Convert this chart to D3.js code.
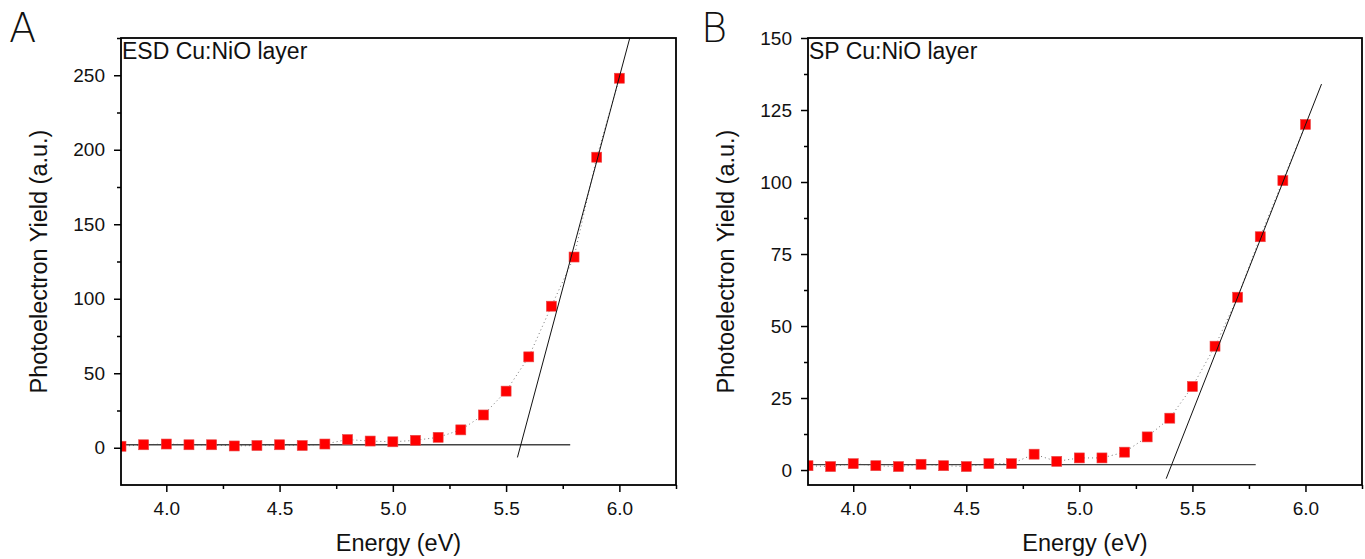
<!DOCTYPE html>
<html>
<head>
<meta charset="utf-8">
<script src="https://cdn.jsdelivr.net/npm/d3@7"></script>
<style>
  html, body { margin: 0; padding: 0; background: #fff; }
  svg { display: block; }
  .tick text { font-family: "Liberation Sans", Arial, sans-serif; font-size: 19px; fill: #111; }
</style>
</head>
<body>
<svg id="chart" width="1365" height="559"></svg>
<script>
// ---- data ----
const energy = [3.8, 3.9, 4.0, 4.1, 4.2, 4.3, 4.4, 4.5, 4.6, 4.7, 4.8, 4.9, 5.0, 5.1, 5.2, 5.3, 5.4, 5.5, 5.6, 5.7, 5.8, 5.9, 6.0];
const yieldESD = [1, 2, 2.5, 2, 2, 1.2, 1.5, 2, 1.5, 2.5, 5.5, 4.5, 4, 5, 7, 12, 22, 38, 61, 95, 128, 195, 248];
const yieldSP = [1.5, 1.2, 2.2, 1.5, 1.2, 2, 1.5, 1.2, 2.2, 2.2, 5.5, 3, 4.2, 4.2, 6.2, 11.5, 18, 29, 43, 60, 81, 100.5, 120];

// fit lines: [x0, y0, x1, y1]
const baselineESD = [3.8, 2.0, 5.783, 2.0];
const slopeESD = [5.55, -6.5, 6.046, 275];
const baselineSP = [3.8, 1.9, 5.78, 1.9];
const slopeSP = [5.384, -3.0, 6.071, 134];

const xTicks = [4.0, 4.5, 5.0, 5.5, 6.0];
const yTicksESD = [0, 50, 100, 150, 200, 250];
const yTicksSP = [0, 25, 50, 75, 100, 125, 150];

const FONT = "'Liberation Sans', Arial, sans-serif";
const TXT = "#111";

const panels = [
  { letter: "A", label: "ESD Cu:NiO layer", values: yieldESD, base: baselineESD, fit: slopeESD,
    left: 121, right: 676, top: 38, bottom: 485, xDom: [3.8, 6.25], yDom: [-25, 275],
    yTicks: yTicksESD, yMinorStep: 25, letterX: 9 },
  { letter: "B", label: "SP Cu:NiO layer", values: yieldSP, base: baselineSP, fit: slopeSP,
    left: 808, right: 1362, top: 38, bottom: 485, xDom: [3.8, 6.25], yDom: [-5.2, 150],
    yTicks: yTicksSP, yMinorStep: 12.5, letterX: 701 }
];

const svg = d3.select("#chart");

panels.forEach(p => {
  const x = d3.scaleLinear().domain(p.xDom).range([p.left, p.right]);
  const y = d3.scaleLinear().domain(p.yDom).range([p.bottom, p.top]);
  const g = svg.append("g");

  const clipId = "clip" + p.letter;
  svg.append("clipPath").attr("id", clipId).append("rect")
    .attr("x", p.left).attr("y", p.top).attr("width", p.right - p.left).attr("height", p.bottom - p.top);

  const plot = g.append("g").attr("clip-path", `url(#${clipId})`);

  // dotted connecting line
  const pts = energy.map((e, i) => [e, p.values[i]]);
  plot.append("path")
    .datum(pts)
    .attr("d", d3.line().x(d => x(d[0])).y(d => y(d[1])))
    .attr("fill", "none").attr("stroke", "#777").attr("stroke-width", 1)
    .attr("stroke-dasharray", "1,3");

  // baseline fit
  plot.append("line")
    .attr("x1", x(p.base[0])).attr("y1", y(p.base[1]))
    .attr("x2", x(p.base[2])).attr("y2", y(p.base[3]))
    .attr("stroke", "#444").attr("stroke-width", 1.3);

  // markers
  const s = 10;
  plot.selectAll("rect.pt").data(pts).enter().append("rect")
    .attr("class", "pt")
    .attr("x", d => x(d[0]) - s / 2).attr("y", d => y(d[1]) - s / 2)
    .attr("width", s).attr("height", s)
    .attr("fill", "#ff0000").attr("stroke", "#e84a4a").attr("stroke-width", 0.6);

  // steep fit line
  plot.append("line")
    .attr("x1", x(p.fit[0])).attr("y1", y(p.fit[1]))
    .attr("x2", x(p.fit[2])).attr("y2", y(p.fit[3]))
    .attr("stroke", "#111").attr("stroke-width", 1);

  // x axis
  const xMinor = d3.range(3.75, 6.26, 0.25).filter(v => v >= p.xDom[0] - 1e-9 && v <= p.xDom[1] + 1e-9 && !xTicks.some(t => Math.abs(t - v) < 1e-6));
  const gx = g.append("g").attr("transform", `translate(0,${p.bottom})`)
    .call(d3.axisBottom(x).tickValues(xTicks).tickFormat(d3.format(".1f")).tickSize(7).tickPadding(10).tickSizeOuter(0));
  gx.attr("font-size", 19).attr("font-family", FONT);
  gx.selectAll(".tick line").attr("stroke-width", 1.5).attr("stroke", "#000");
  gx.select(".domain").remove();
  g.append("g").attr("transform", `translate(0,${p.bottom})`)
    .call(d3.axisBottom(x).tickValues(xMinor).tickFormat("").tickSize(4).tickSizeOuter(0))
    .call(a => a.select(".domain").remove())
    .selectAll(".tick line").attr("stroke-width", 1.5).attr("stroke", "#000");

  // y axis
  const yMinor = d3.range(p.yTicks[0] - p.yMinorStep * 4, p.yDom[1] + 0.01, p.yMinorStep)
    .filter(v => v > p.yDom[0] && v <= p.yDom[1] && !p.yTicks.some(t => Math.abs(t - v) < 1e-6));
  const gy = g.append("g").attr("transform", `translate(${p.left},0)`)
    .call(d3.axisLeft(y).tickValues(p.yTicks).tickSize(7).tickPadding(9).tickSizeOuter(0));
  gy.attr("font-size", 19).attr("font-family", FONT);
  gy.selectAll(".tick line").attr("stroke-width", 1.5).attr("stroke", "#000");
  gy.select(".domain").remove();
  g.append("g").attr("transform", `translate(${p.left},0)`)
    .call(d3.axisLeft(y).tickValues(yMinor).tickFormat("").tickSize(4).tickSizeOuter(0))
    .call(a => a.select(".domain").remove())
    .selectAll(".tick line").attr("stroke-width", 1.5).attr("stroke", "#000");

  // frame
  g.append("rect")
    .attr("x", p.left).attr("y", p.top).attr("width", p.right - p.left).attr("height", p.bottom - p.top)
    .attr("fill", "none").attr("stroke", "#000").attr("stroke-width", 1.8);

  // labels
  g.append("text").attr("x", p.left + 1).attr("y", p.top + 21)
    .style("font-family", FONT).style("font-size", "23px").style("fill", TXT).text(p.label);

  g.append("text")
    .attr("x", (p.left + p.right) / 2).attr("y", 551)
    .attr("text-anchor", "middle")
    .style("font-family", FONT).style("font-size", "23.5px").style("fill", TXT).text("Energy (eV)");

  g.append("text")
    .attr("transform", `translate(${p.left - 74},${(p.top + p.bottom) / 2}) rotate(-90)`)
    .attr("text-anchor", "middle")
    .style("font-family", FONT).style("font-size", "23.5px").style("fill", TXT).text("Photoelectron Yield (a.u.)");

  g.append("text").attr("x", p.letterX).attr("y", 42)
    .style("font-family", "'DejaVu Sans', sans-serif").style("font-size", "40px").style("font-weight", 200).style("fill", TXT)
    .text(p.letter);
});
</script>
</body>
</html>
